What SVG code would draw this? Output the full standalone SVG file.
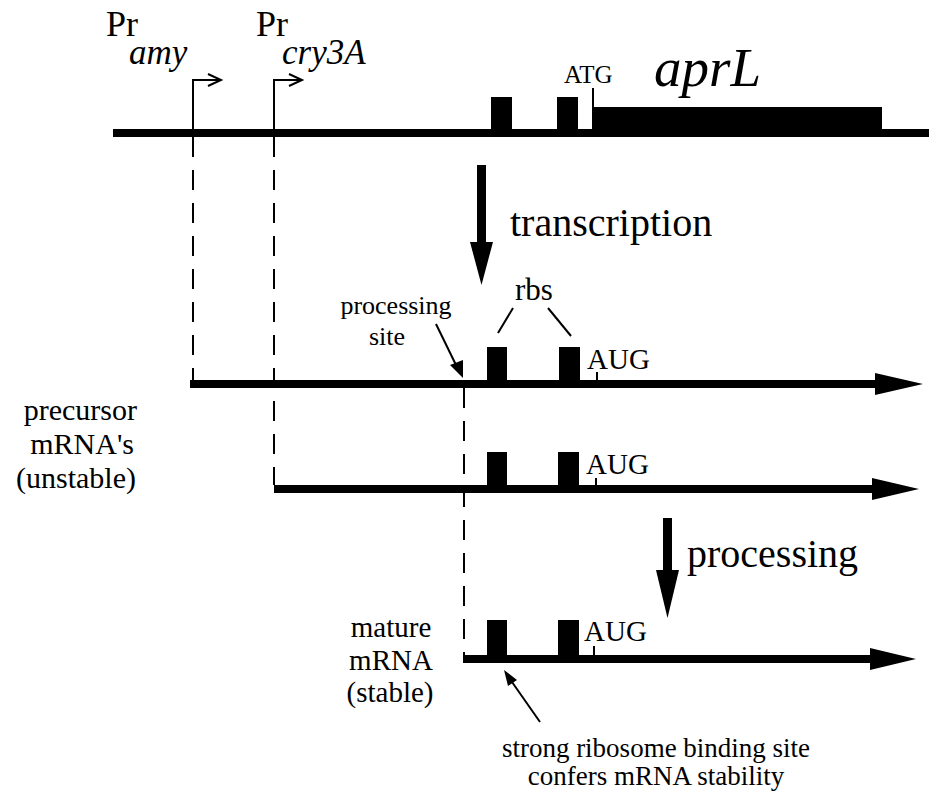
<svg xmlns="http://www.w3.org/2000/svg" width="929" height="791" viewBox="0 0 929 791">
<style>
.t{font-family:"Liberation Serif","Times New Roman",serif;fill:#000}
.i{font-style:italic}
.thin{stroke:#000;stroke-width:2;fill:none}
.dash{stroke:#000;stroke-width:2;fill:none;stroke-dasharray:20 13}
.bar{fill:#000}
</style>
<rect width="929" height="791" fill="#fff"/>
<g id="dna">
<rect class="bar" x="113" y="129" width="816" height="8"/>
<rect class="bar" x="491" y="97" width="21" height="36"/>
<rect class="bar" x="557" y="97" width="21" height="36"/>
<rect class="bar" x="594" y="107" width="288" height="28"/>
<line class="thin" x1="593" y1="88" x2="593" y2="131"/>
<text class="t" x="564" y="83" font-size="25">ATG</text>
<text class="t i" x="654" y="86" font-size="55">aprL</text>
</g>
<g id="pr-amy">
<text class="t" x="106" y="36" font-size="36">Pr</text>
<text class="t i" x="129" y="64" font-size="35">amy</text>
<path class="thin" d="M193,131 V80 H221 M208,74 L221,80 L208,86"/>
</g>
<g id="pr-cry3A">
<text class="t" x="256" y="36" font-size="36">Pr</text>
<text class="t i" x="282" y="64" font-size="35">cry3A</text>
<path class="thin" d="M274,131 V80 H302 M289,74 L302,80 L289,86"/>
</g>
<g id="transcription">
<rect class="bar" x="477" y="165" width="9" height="80"/>
<polygon class="bar" points="470,242 493,242 481.5,285"/>
<text class="t" x="510" y="236" font-size="40">transcription</text>
</g>
<g id="mrna1">
<rect class="bar" x="190" y="380" width="688" height="8"/>
<polygon class="bar" points="875,373 923,384 875,395"/>
<rect class="bar" x="487" y="347" width="20" height="37"/>
<rect class="bar" x="559" y="347" width="21" height="37"/>
<line class="thin" x1="597" y1="372" x2="597" y2="381"/>
<text class="t" x="587" y="369" font-size="29">AUG</text>
</g>
<g id="rbs">
<text class="t" x="515" y="300" font-size="31">rbs</text>
<line class="thin" x1="513" y1="308" x2="498" y2="333"/>
<line class="thin" x1="548" y1="308" x2="571" y2="336"/>
</g>
<g id="processing-site">
<text class="t" x="396" y="314" font-size="26" text-anchor="middle">processing</text>
<text class="t" x="387" y="345" font-size="26" text-anchor="middle">site</text>
<line class="thin" x1="436" y1="324" x2="456" y2="365"/>
<polygon class="bar" points="450,365 463,378 463,360"/>
</g>
<g id="mrna2">
<rect class="bar" x="274" y="485" width="600" height="8"/>
<polygon class="bar" points="872,478 919,489 872,500"/>
<rect class="bar" x="487" y="452" width="20" height="37"/>
<rect class="bar" x="558" y="452" width="21" height="37"/>
<line class="thin" x1="596" y1="478" x2="596" y2="486"/>
<text class="t" x="586" y="474" font-size="29">AUG</text>
</g>
<g id="precursor-label">
<text class="t" x="137" y="420" font-size="30" text-anchor="end">precursor</text>
<text class="t" x="134" y="454" font-size="30" text-anchor="end">mRNA's</text>
<text class="t" x="136" y="488" font-size="30" text-anchor="end">(unstable)</text>
</g>
<g id="processing">
<rect class="bar" x="663" y="518" width="9" height="54"/>
<polygon class="bar" points="656,570 679,570 667.5,618"/>
<text class="t" x="687" y="567" font-size="40">processing</text>
</g>
<g id="mrna3">
<rect class="bar" x="463" y="655" width="410" height="8"/>
<polygon class="bar" points="870,648 916,659 870,670"/>
<rect class="bar" x="487" y="620" width="20" height="37"/>
<rect class="bar" x="558" y="620" width="21" height="37"/>
<line class="thin" x1="594" y1="646" x2="594" y2="656"/>
<text class="t" x="584" y="641" font-size="29">AUG</text>
</g>
<g id="mature-label">
<text class="t" x="391" y="637" font-size="29" text-anchor="middle">mature</text>
<text class="t" x="391" y="670" font-size="29" text-anchor="middle">mRNA</text>
<text class="t" x="390" y="702" font-size="29" text-anchor="middle">(stable)</text>
</g>
<g id="rbs-note">
<line class="thin" x1="540" y1="722" x2="512" y2="682"/>
<polygon class="bar" points="504,670 517,680 508,686"/>
<text class="t" x="656" y="757" font-size="27" text-anchor="middle">strong ribosome binding site</text>
<text class="t" x="656" y="785" font-size="27" text-anchor="middle">confers mRNA stability</text>
</g>
<g id="connectors">
<line class="dash" x1="193" y1="137" x2="193" y2="380"/>
<line class="dash" x1="274" y1="137" x2="274" y2="485"/>
<line class="dash" x1="464" y1="388" x2="464" y2="659"/>
</g>
</svg>
